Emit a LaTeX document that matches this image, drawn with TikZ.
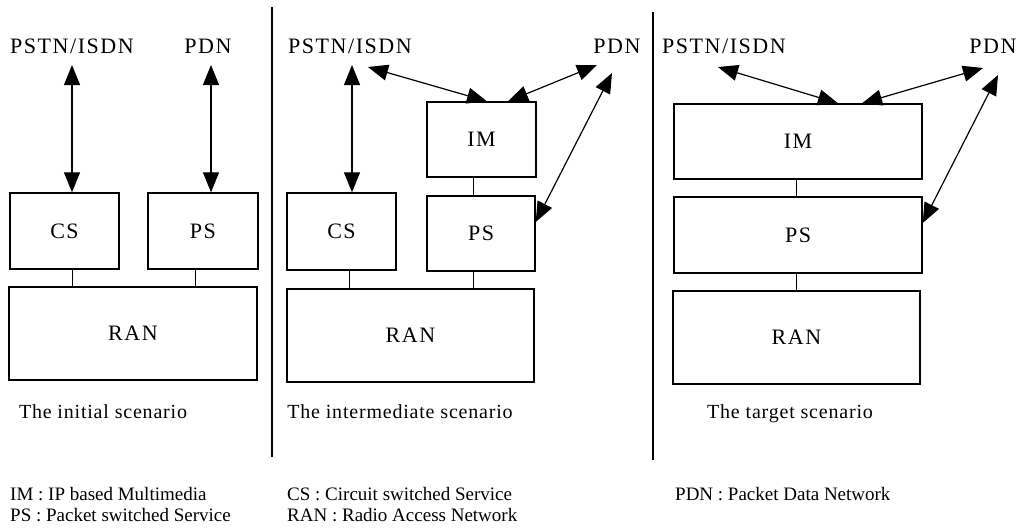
\documentclass[tikz,border=0pt]{standalone}
\usepackage{fontspec}
\setmainfont{Liberation Serif}
\newfontfamily\lblfont[LetterSpace=7]{Liberation Serif}
\newfontfamily\capfont[LetterSpace=4]{Liberation Serif}
\usetikzlibrary{arrows.meta}

\begin{document}
\begin{tikzpicture}[x=1pt,y=-1pt,
  box/.style={draw, line width=1.4pt, inner sep=0pt,
    font=\lblfont\fontsize{22}{26}\selectfont},
  lbl/.style={inner sep=0pt, anchor=base, font=\lblfont\fontsize{22}{26}\selectfont},
  captiontext/.style={inner sep=0pt, anchor=base, font=\capfont\fontsize{20}{24}\selectfont},
  legendtext/.style={inner sep=0pt, anchor=base west, font=\fontsize{19}{23}\selectfont},
  link/.style={line width=1pt},
  divider/.style={line width=1.8pt},
  dbl/.style={{Triangle[length=20pt 0 0,width=16pt 0 0]}-{Triangle[length=20pt 0 0,width=16pt 0 0]}, line width=1.2pt}]

\fill[white] (0,0) rectangle (1030,530);
\useasboundingbox (0,0) rectangle (1030,530);

% separators between the three scenarios
\draw[divider] (272,7) -- (272,457);
\draw[divider] (653,12) -- (653,460);

% ---------- initial scenario ----------
\node[lbl] (PSTN1) at (72,53) {PSTN/ISDN};
\node[lbl] (PDN1) at (208,53) {PDN};
\node[box, minimum width=109pt, minimum height=76pt] (CS1) at (64.5,231) {CS};
\node[box, minimum width=110pt, minimum height=76pt] (PS1) at (203,231) {PS};
\node[box, minimum width=248pt, minimum height=93pt] (RAN1) at (133,333.5) {RAN};

\draw[dbl] ([shift={(0,12)}]PSTN1.base) -- ([shift={(7.5,0)}]CS1.north);
\draw[dbl] ([shift={(3,12)}]PDN1.base) -- ([shift={(8,0)}]PS1.north);
\path ([shift={(7.5,0)}]CS1.south) coordinate (c1) ([shift={(-8,0)}]PS1.south) coordinate (p1);
\draw[link] (c1) -- (c1 |- RAN1.north);
\draw[link] (p1) -- (p1 |- RAN1.north);

% ---------- intermediate scenario ----------
\node[lbl] (PSTN2) at (350,53) {PSTN/ISDN};
\node[lbl] (PDN2) at (617,53) {PDN};
\node[box, minimum width=109pt, minimum height=75pt] (IM2) at (481.5,139.5) {IM};
\node[box, minimum width=109pt, minimum height=77pt] (CS2) at (341.5,231.5) {CS};
\node[box, minimum width=108pt, minimum height=75pt] (PS2) at (481,233.5) {PS};
\node[box, minimum width=247pt, minimum height=93pt] (RAN2) at (410.5,335.5) {RAN};

\draw[dbl] ([shift={(2,12)}]PSTN2.base) -- ([shift={(10.5,0)}]CS2.north);
\draw[dbl] ([shift={(18,14)}]PSTN2.base) -- ([shift={(5.5,0)}]IM2.north);
\draw[dbl] ([shift={(-20,12)}]PDN2.base) -- ([shift={(26.5,0)}]IM2.north);
\draw[dbl] ([shift={(-5,20)}]PDN2.base) -- ([shift={(0,-11.5)}]PS2.east);
\path ([shift={(7.5,0)}]CS2.south) coordinate (c2)
      ([shift={(-8,0)}]PS2.south) coordinate (p2)
      ([shift={(-8.5,0)}]IM2.south) coordinate (i2);
\draw[link] (c2) -- (c2 |- RAN2.north);
\draw[link] (p2) -- (p2 |- RAN2.north);
\draw[link] (i2) -- (i2 |- PS2.north);

% ---------- target scenario ----------
\node[lbl] (PSTN3) at (724,53) {PSTN/ISDN};
\node[lbl] (PDN3) at (993,53) {PDN};
\node[box, minimum width=248pt, minimum height=75pt] (IM3) at (798,141.5) {IM};
\node[box, minimum width=248pt, minimum height=76pt] (PS3) at (798,235) {PS};
\node[box, minimum width=247pt, minimum height=93pt] (RAN3) at (796.5,337.5) {RAN};

\draw[dbl] ([shift={(-6,14)}]PSTN3.base) -- ([shift={(40,0)}]IM3.north);
\draw[dbl] ([shift={(-10,15)}]PDN3.base) -- ([shift={(64,0)}]IM3.north);
\draw[dbl] ([shift={(5,22)}]PDN3.base) -- ([shift={(0,-12)}]PS3.east);
\path ([shift={(-2,0)}]IM3.south) coordinate (i3)
      ([shift={(-2,0)}]PS3.south) coordinate (p3);
\draw[link] (i3) -- (i3 |- PS3.north);
\draw[link] (p3) -- (p3 |- RAN3.north);

% ---------- captions ----------
\node[captiontext] (cap1) at (103,418) {The initial scenario};
\node[captiontext] (cap2) at (400,418) {The intermediate scenario};
\node[captiontext] (cap3) at (790,418) {The target scenario};

% ---------- legend ----------
\node[legendtext] (legIM) at (10,500) {IM : IP based Multimedia};
\node[legendtext] (legPS) at (10,521) {PS : Packet switched Service};
\node[legendtext] (legCS) at (287,500) {CS : Circuit switched Service};
\node[legendtext] (legRAN) at (287,521) {RAN : Radio Access Network};
\node[legendtext] (legPDN) at (675,500) {PDN : Packet Data Network};
\end{tikzpicture}
\end{document}
